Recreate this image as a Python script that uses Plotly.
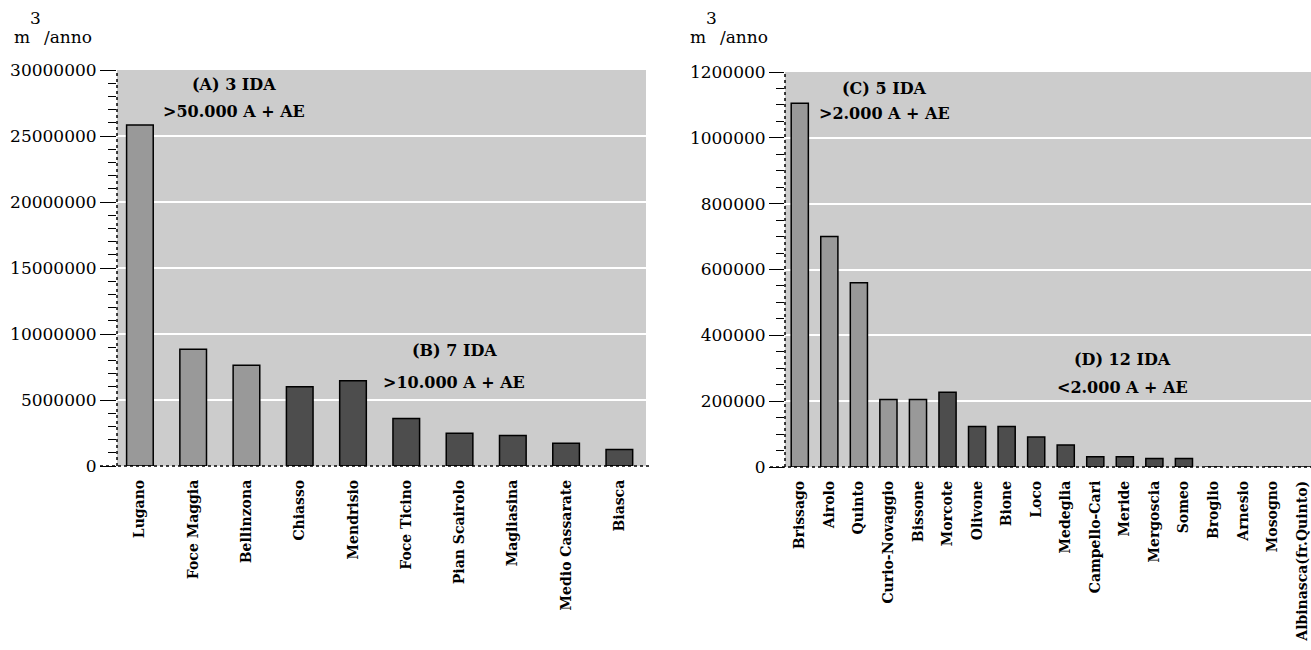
import plotly.graph_objects as go

W, H = 1311, 650

# ---- Data ----
left_names = ["Lugano", "Foce Maggia", "Bellinzona", "Chiasso", "Mendrisio",
              "Foce Ticino", "Pian Scairolo", "Magliasina", "Medio Cassarate", "Biasca"]
left_values = [25830000, 8850000, 7630000, 6000000, 6450000,
               3590000, 2490000, 2320000, 1730000, 1250000]
left_group = ["A", "A", "A", "B", "B", "B", "B", "B", "B", "B"]

right_names = ["Brissago", "Airolo", "Quinto", "Curio-Novaggio", "Bissone",
               "Morcote", "Olivone", "Bione", "Loco", "Medeglia",
               "Campello-Cari", "Meride", "Mergoscia", "Someo", "Broglio",
               "Arnesio", "Mosogno", "Albinasca(fr.Quinto)"]
right_values = [1105000, 700000, 560000, 205000, 205000,
                227000, 123000, 123000, 91000, 67000,
                31000, 31000, 26000, 26000, 0,
                0, 0, 0]
right_group = ["C"] * 5 + ["D"] * 13

left_yticks = [0, 5000000, 10000000, 15000000, 20000000, 25000000, 30000000]
right_yticks = [0, 200000, 400000, 600000, 800000, 1000000, 1200000]

LIGHT = "#999999"
DARK = "#4d4d4d"
col = {"A": LIGHT, "B": DARK, "C": LIGHT, "D": DARK}

FONT = "DejaVu Serif"

def px_x(p):
    return p / W

def px_y(p):
    return 1 - p / H

fig = go.Figure()
fig.add_trace(go.Bar(
    x=list(range(len(left_names))), y=left_values,
    marker=dict(color=[col[g] for g in left_group], line=dict(color="black", width=1.5)),
    xaxis="x", yaxis="y", width=0.5, showlegend=False))
fig.add_trace(go.Bar(
    x=list(range(len(right_names))), y=right_values,
    marker=dict(color=[col[g] for g in right_group], line=dict(color="black", width=1.5)),
    xaxis="x2", yaxis="y2", width=0.58, showlegend=False))

ydomL = [px_y(466), px_y(70)]
ydomR = [px_y(467), px_y(72)]
xdomL = [px_x(117), px_x(646)]
xdomR = [px_x(785), 1.0]

xcommon = dict(showgrid=False, zeroline=False, showline=False, ticks="",
               tickangle=-90, tickmode="array", automargin=False,
               tickfont=dict(family=FONT, size=14, color="black", weight="bold"),
               ticklabelstandoff=10)
ycommon = dict(showgrid=True, gridcolor="white", gridwidth=1.5, zeroline=False,
               showline=False, ticks="outside", tickcolor="black", tickwidth=1,
               automargin=False, tickmode="array",
               tickfont=dict(family=FONT, size=17, color="black"))

fig.update_layout(
    width=W, height=H,
    margin=dict(l=0, r=0, t=0, b=0),
    paper_bgcolor="white", plot_bgcolor="#cccccc",
    font=dict(family=FONT, color="black"),
    bargap=0.5,
    xaxis=dict(domain=xdomL, range=[-0.43, 9.5], anchor="y",
               tickvals=list(range(len(left_names))), ticktext=left_names, **xcommon),
    yaxis=dict(domain=ydomL, range=[0, 30000000], anchor="x",
               tickvals=left_yticks, ticktext=[str(v) for v in left_yticks],
               ticklen=16,
               minor=dict(dtick=1000000, ticks="outside", ticklen=8,
                          tickcolor="black", showgrid=False),
               **ycommon),
    xaxis2=dict(domain=xdomR, range=[-0.5, 17.3], anchor="y2",
                tickvals=list(range(len(right_names))), ticktext=right_names, **xcommon),
    yaxis2=dict(domain=ydomR, range=[0, 1200000], anchor="x2",
                tickvals=right_yticks, ticktext=[str(v) for v in right_yticks],
                ticklen=15,
                minor=dict(dtick=50000, ticks="outside", ticklen=8,
                           tickcolor="black", showgrid=False),
                **ycommon),
)

# dotted axis lines
line = dict(color="black", width=1.5, dash="dot")
fig.add_shape(type="line", xref="paper", yref="paper",
              x0=xdomL[0], x1=xdomL[0], y0=ydomL[0], y1=ydomL[1], line=line)
fig.add_shape(type="line", xref="paper", yref="paper",
              x0=px_x(100), x1=px_x(649), y0=ydomL[0], y1=ydomL[0], line=line)
fig.add_shape(type="line", xref="paper", yref="paper",
              x0=xdomR[0], x1=xdomR[0], y0=ydomR[0], y1=ydomR[1], line=line)
fig.add_shape(type="line", xref="paper", yref="paper",
              x0=px_x(770), x1=1.0, y0=ydomR[0], y1=ydomR[0], line=line)

def ann(text, x, y, size=16, bold=True, xanchor="center"):
    fig.add_annotation(text=f"<b>{text}</b>" if bold else text,
                       x=px_x(x), y=px_y(y), xref="paper", yref="paper",
                       xanchor=xanchor, yanchor="middle", showarrow=False,
                       font=dict(family=FONT, size=size, color="black"))

ann("(A) 3 IDA", 234, 85)
ann("&gt;50.000 A + AE", 234, 111)
ann("(B) 7 IDA", 454, 350)
ann("&gt;10.000 A + AE", 454, 382)
ann("(C) 5 IDA", 884, 88)
ann("&gt;2.000 A + AE", 884, 113)
ann("(D) 12 IDA", 1122, 359)
ann("&lt;2.000 A + AE", 1122, 387)

# unit labels: m, raised 3, /anno
for mx in (12, 688):
    ann("m", mx, 37, size=17, bold=False, xanchor="left")
    ann("3", mx + 16, 18, size=17, bold=False, xanchor="left")
    ann("/anno", mx + 30, 37, size=17, bold=False, xanchor="left")

fig.write_html("out.html", config={"displayModeBar": False},
               post_script="document.body.style.margin='0';document.body.style.overflow='hidden';")
